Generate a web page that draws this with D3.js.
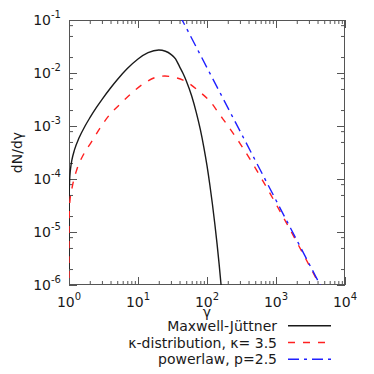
<!DOCTYPE html>
<html>
<head>
<meta charset="utf-8">
<script src="https://cdn.jsdelivr.net/npm/d3@7"></script>
<style>
  body { margin: 0; background: #fff; }
  text { font-family: "DejaVu Sans", sans-serif; fill: #1a1a1a; }
</style>
</head>
<body>
<div id="chart"></div>
<script>
// ---- data ----
var gammaMJ = [1.00001, 1.0001, 1.001, 1.003, 1.01, 1.03, 1.06, 1.1, 1.2, 1.4, 1.7, 2, 2.5, 3, 4, 5, 7, 10, 14, 20, 25, 30, 35, 40, 45, 50, 60, 70, 80, 90, 100, 110, 120, 130, 140, 150, 160, 170, 180];
var fluxMJ  = [2.0e-6, 6.4e-6, 2.0e-5, 3.5e-5, 6.5e-5, 1.15e-4, 1.68e-4, 2.26e-4, 3.54e-4, 5.98e-4, 9.88e-4, 1.42e-3, 2.24e-3, 3.15e-3, 5.2e-3, 7.45e-3, 0.0121, 0.0184, 0.0242, 0.0271, 0.0257, 0.0225, 0.0185, 0.0132, 0.0098, 0.00717, 0.00367, 0.00179, 8.6e-4, 3.96e-4, 1.78e-4, 7.7e-5, 3.3e-5, 1.4e-5, 5.9e-6, 2.45e-6, 1.0e-6, 4.1e-7, 1.7e-7];

var gammaKappa = [1.00001, 1.0001, 1.001, 1.003, 1.01, 1.034, 1.116, 1.292, 1.609, 2.128, 2.8, 3.91, 5.45, 8.04, 11.83, 19.5, 24.5, 30.4, 50.1, 78, 115, 150, 200, 300, 500, 700, 1000, 1500, 2500, 4000, 6000];
var fluxKappa  = [7e-7, 2.2e-6, 7e-6, 1.2e-5, 2.2e-5, 4.0e-5, 7.2e-5, 1.48e-4, 2.84e-4, 5.06e-4, 9.06e-4, 1.65e-3, 2.56e-3, 4.14e-3, 6.19e-3, 8.5e-3, 8.75e-3, 8.5e-3, 6.86e-3, 4.43e-3, 2.75e-3, 1.7e-3, 1.016e-3, 4.72e-4, 1.62e-4, 7.65e-5, 3.37e-5, 1.29e-5, 3.76e-6, 1.19e-6, 4.4e-7];

var gammaPow = [40, 100, 1000, 6000];
var fluxPow  = [0.1244, 0.01259, 3.98e-5, 4.51e-7];

var xTickExps = [0, 1, 2, 3, 4];
var yTickExps = [-1, -2, -3, -4, -5, -6];
var seriesNames = ["Maxwell-J\u00fcttner", "\u03ba-distribution, \u03ba= 3.5", "powerlaw, p=2.5"];
var seriesColors = ["#1a1a1a", "#ff2020", "#2020ff"];
var seriesDash = [null, "7,8", "11,5,3,5"];

// ---- layout ----
var W = 374, H = 374;
var plot = { left: 69, right: 345, top: 20, bottom: 285 };

var svg = d3.select("#chart").append("svg")
    .attr("width", W)
    .attr("height", H);

var x = d3.scaleLog().domain([1, 1e4]).range([plot.left, plot.right]);
var y = d3.scaleLog().domain([1e-6, 1e-1]).range([plot.bottom, plot.top]);

svg.append("clipPath").attr("id", "clip")
    .append("rect")
    .attr("x", plot.left).attr("y", plot.top)
    .attr("width", plot.right - plot.left)
    .attr("height", plot.bottom - plot.top);

// tick values
var xMajor = xTickExps.map(e => Math.pow(10, e));
var yMajor = yTickExps.map(e => Math.pow(10, e));
var xMinor = [];
xTickExps.slice(0, -1).forEach(e => {
    for (var k = 2; k <= 9; k++) xMinor.push(k * Math.pow(10, e));
});
var yMinor = [];
yTickExps.slice(1).forEach(e => {
    [2, 5, 8].forEach(k => yMinor.push(k * Math.pow(10, e)));
});

function drawAxis(axis, tx, ty) {
    var g = svg.append("g")
        .attr("transform", "translate(" + tx + "," + ty + ")")
        .call(axis);
    g.select(".domain").remove();
    g.selectAll("line").attr("stroke", "#555").attr("stroke-width", 1);
    g.selectAll("text").remove();
}

// major + minor ticks on all 4 sides, pointing inward
drawAxis(d3.axisBottom(x).tickValues(xMajor).tickSize(-8), 0, plot.bottom);
drawAxis(d3.axisBottom(x).tickValues(xMinor).tickSize(-4), 0, plot.bottom);
drawAxis(d3.axisTop(x).tickValues(xMajor).tickSize(-8), 0, plot.top);
drawAxis(d3.axisTop(x).tickValues(xMinor).tickSize(-4), 0, plot.top);
drawAxis(d3.axisLeft(y).tickValues(yMajor).tickSize(-8), plot.left, 0);
drawAxis(d3.axisLeft(y).tickValues(yMinor).tickSize(-4), plot.left, 0);
drawAxis(d3.axisRight(y).tickValues(yMajor).tickSize(-8), plot.right, 0);
drawAxis(d3.axisRight(y).tickValues(yMinor).tickSize(-4), plot.right, 0);

// frame
svg.append("rect")
    .attr("x", plot.left + 0.5).attr("y", plot.top + 0.5)
    .attr("width", plot.right - plot.left - 1)
    .attr("height", plot.bottom - plot.top - 1)
    .attr("fill", "none")
    .attr("stroke", "#555")
    .attr("stroke-width", 1);

// tick labels as 10^n
var xl = svg.append("g").selectAll("text")
    .data(xTickExps).enter().append("text")
    .attr("x", d => x(Math.pow(10, d)))
    .attr("y", 307)
    .attr("text-anchor", "middle")
    .attr("font-size", 14);
xl.append("tspan").text("10");
xl.append("tspan").attr("dy", -7).attr("font-size", 10).text(d => d);

var yl = svg.append("g").selectAll("text")
    .data(yTickExps).enter().append("text")
    .attr("x", 61)
    .attr("y", d => y(Math.pow(10, d)) + 5)
    .attr("text-anchor", "end")
    .attr("font-size", 14);
yl.append("tspan").text("10");
yl.append("tspan").attr("dy", -7).attr("font-size", 10).text(d => "-" + Math.abs(d));

// axis titles
svg.append("text")
    .attr("x", (plot.left + plot.right) / 2)
    .attr("y", 317)
    .attr("text-anchor", "middle")
    .attr("font-size", 14)
    .text("\u03b3");

svg.append("text")
    .attr("transform", "translate(22," + ((plot.top + plot.bottom) / 2) + ") rotate(-90)")
    .attr("text-anchor", "middle")
    .attr("font-size", 14)
    .text("dN/d\u03b3");

// curves
var series = [
    gammaMJ.map((g, i) => [g, fluxMJ[i]]),
    gammaKappa.map((g, i) => [g, fluxKappa[i]]),
    gammaPow.map((g, i) => [g, fluxPow[i]])
];

var line = d3.line()
    .x(d => x(d[0]))
    .y(d => y(d[1]))
    .curve(d3.curveMonotoneX);

svg.append("g").attr("clip-path", "url(#clip)")
    .selectAll("path")
    .data(series).enter().append("path")
    .attr("d", line)
    .attr("fill", "none")
    .attr("stroke", (d, i) => seriesColors[i])
    .attr("stroke-width", 1.4)
    .attr("stroke-dasharray", (d, i) => seriesDash[i]);

// legend
var leg = svg.append("g").selectAll("g")
    .data(seriesNames).enter().append("g")
    .attr("transform", (d, i) => "translate(0," + (325.7 + i * 16.8) + ")");

leg.append("text")
    .attr("x", 277)
    .attr("y", 0)
    .attr("dy", "0.36em")
    .attr("text-anchor", "end")
    .attr("font-size", 14)
    .text(d => d);

leg.append("line")
    .attr("x1", 288).attr("x2", 331)
    .attr("y1", 0).attr("y2", 0)
    .attr("stroke", (d, i) => seriesColors[i])
    .attr("stroke-width", 1.4)
    .attr("stroke-dasharray", (d, i) => seriesDash[i]);
</script>
</body>
</html>
